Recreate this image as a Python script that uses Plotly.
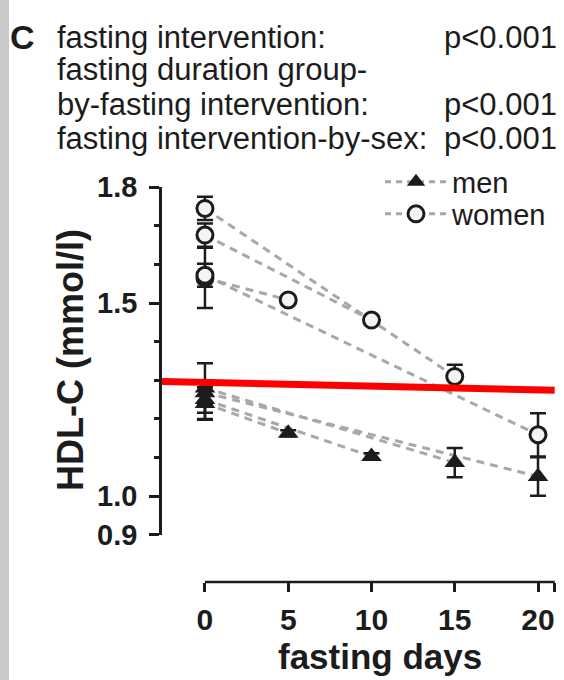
import plotly.graph_objects as go

# ---------------- data ----------------
group_labels = ["5 days", "10 days", "15 days", "20 days"]
group_end_day = [5, 10, 15, 20]

women_baseline = [1.565, 1.676, 1.745, 1.572]
women_baseline_err = [0.078, 0.030, 0.030, 0.030]
women_end = [1.508, 1.456, 1.310, 1.159]
women_end_err = [0.008, 0.008, 0.030, 0.056]

men_baseline = [1.240, 1.250, 1.280, 1.268]
men_baseline_err = [0.042, 0.050, 0.064, 0.030]
men_end = [1.163, 1.103, 1.087, 1.051]
men_end_err = [0.008, 0.008, 0.038, 0.050]

x_tick_vals = [0, 5, 10, 15, 20, 21]
x_tick_text = ["0", "5", "10", "15", "20", ""]
y_tick_vals = [0.9, 1.0, 1.5, 1.8]
y_tick_text = ["0.9", "1.0", "1.5", "1.8"]
y_minor_vals = [1.1, 1.2, 1.3, 1.4, 1.6, 1.7]

stats_labels = ["fasting intervention:", "fasting duration group-",
                "by-fasting intervention:", "fasting intervention-by-sex:"]
stats_pvalues = ["p<0.001", "", "p<0.001", "p<0.001"]

# red overlay line (data units)
red_x = [-2.58, 21.0]
red_y = [1.297, 1.274]

# ---------------- layout geometry ----------------
W, H = 564, 680
L, R, T, B = 162, 9, 187, 98
PW, PH = W - L - R, H - T - B


def px_x(p):
    return (p - L) / PW


def px_y(p):
    return (H - B - p) / PH


FONT = "Liberation Sans, Arial, sans-serif"
INK = "#1c1c1c"
LINE_GRAY = "#a8a8a8"

fig = go.Figure()

# dashed connecting lines first (under markers)
for sex, base, end in [("men", men_baseline, men_end), ("women", women_baseline, women_end)]:
    for i, d in enumerate(group_end_day):
        fig.add_trace(go.Scatter(
            x=[0, d], y=[base[i], end[i]], mode="lines",
            line=dict(color=LINE_GRAY, width=3, dash="8px,6px"),
            showlegend=False, hoverinfo="skip", cliponaxis=False))

# markers with error bars
for i, d in enumerate(group_end_day):
    fig.add_trace(go.Scatter(
        x=[0, d], y=[men_baseline[i], men_end[i]], mode="markers",
        marker=dict(symbol="triangle-up", size=18, color=INK),
        error_y=dict(type="data", array=[men_baseline_err[i], men_end_err[i]],
                     color=INK, thickness=2.5, width=8),
        showlegend=False, cliponaxis=False))
for i, d in enumerate(group_end_day):
    fig.add_trace(go.Scatter(
        x=[0, d], y=[women_baseline[i], women_end[i]], mode="markers",
        marker=dict(symbol="circle", size=16, color="#f4f4f4",
                    line=dict(color=INK, width=3)),
        error_y=dict(type="data", array=[women_baseline_err[i], women_end_err[i]],
                     color=INK, thickness=2.5, width=8),
        showlegend=False, cliponaxis=False))

# legend-only entries
fig.add_trace(go.Scatter(
    x=[None], y=[None], mode="lines+markers", name="men",
    line=dict(color=LINE_GRAY, width=3, dash="6px,5px"),
    marker=dict(symbol="triangle-up", size=17, color=INK), legend="legend"))
fig.add_trace(go.Scatter(
    x=[None], y=[None], mode="lines+markers", name="women",
    line=dict(color=LINE_GRAY, width=3, dash="6px,5px"),
    marker=dict(symbol="circle", size=16, color="#f4f4f4", line=dict(color=INK, width=3)),
    legend="legend2"))

annotations = []
# panel letter
annotations.append(dict(text="<b>C</b>", x=px_x(8), y=px_y(37), xref="paper", yref="paper",
                        xanchor="left", yanchor="middle", showarrow=False,
                        font=dict(family=FONT, size=34, color=INK)))
line_y = [37, 70, 104, 138]
for lab, pv, yy in zip(stats_labels, stats_pvalues, line_y):
    annotations.append(dict(text=lab, x=px_x(55), y=px_y(yy), xref="paper", yref="paper",
                            xanchor="left", yanchor="middle", showarrow=False,
                            font=dict(family=FONT, size=31, color=INK)))
    if pv:
        annotations.append(dict(text=pv, x=px_x(559), y=px_y(yy), xref="paper", yref="paper",
                                xanchor="right", yanchor="middle", showarrow=False,
                                font=dict(family=FONT, size=31, color=INK)))
# axis titles
annotations.append(dict(text="<b>HDL-C (mmol/l)</b>", x=px_x(70), y=px_y(360),
                        xref="paper", yref="paper", xanchor="center", yanchor="middle",
                        textangle=-90, showarrow=False,
                        font=dict(family=FONT, size=36, color=INK)))
annotations.append(dict(text="<b>fasting days</b>", x=10.5, y=px_y(656),
                        xref="x", yref="paper", xanchor="center", yanchor="middle",
                        showarrow=False, font=dict(family=FONT, size=35, color=INK)))

shapes = [
    # left grey strip
    dict(type="rect", xref="paper", yref="paper", x0=px_x(0), x1=px_x(9),
         y0=px_y(H), y1=px_y(0), fillcolor="#c9c9c9", line=dict(width=0), layer="above"),
    # detached x axis line
    dict(type="line", xref="x", yref="paper", x0=0, x1=21, y0=0, y1=0,
         line=dict(color=INK, width=2.5)),
    # red overlay line
    dict(type="line", xref="x", yref="y", x0=red_x[0], x1=red_x[1], y0=red_y[0], y1=red_y[1],
         line=dict(color="#ff0000", width=7), layer="above"),
]

y_dom_bottom = px_y(535)

fig.update_layout(
    width=W, height=H, margin=dict(l=L, r=R, t=T, b=B, autoexpand=False),
    paper_bgcolor="white", plot_bgcolor="white",
    font=dict(family=FONT, color=INK),
    annotations=annotations, shapes=shapes,
    xaxis=dict(range=[-2.58, 21.02], domain=[0, 1], anchor="free", position=0,
               showline=False, showgrid=False, zeroline=False,
               tickmode="array", tickvals=x_tick_vals, ticktext=x_tick_text,
               ticks="outside", ticklen=9, tickwidth=2.5, tickcolor=INK,
               ticklabelstandoff=2,
               tickfont=dict(family=FONT, size=30, color=INK, weight="bold")),
    yaxis=dict(range=[0.8995, 1.8005], domain=[y_dom_bottom, 1], anchor="x",
               showline=True, linewidth=2.5, linecolor=INK,
               showgrid=False, zeroline=False,
               tickmode="array", tickvals=y_tick_vals, ticktext=y_tick_text,
               ticks="outside", ticklen=10, tickwidth=2.5, tickcolor=INK,
               ticklabelstandoff=6,
               tickfont=dict(family=FONT, size=29, color=INK, weight="bold"),
               minor=dict(tickmode="array", tickvals=y_minor_vals, ticks="outside",
                          ticklen=5, tickwidth=2.5, tickcolor=INK)),
    legend=dict(x=px_x(380), y=px_y(182), xanchor="left", yanchor="middle",
                bgcolor="rgba(0,0,0,0)", itemwidth=62,
                font=dict(family=FONT, size=29, color=INK)),
    legend2=dict(x=px_x(380), y=px_y(214), xanchor="left", yanchor="middle",
                 bgcolor="rgba(0,0,0,0)", itemwidth=62,
                 font=dict(family=FONT, size=29, color=INK)),
)

fig.write_html("out.html")
